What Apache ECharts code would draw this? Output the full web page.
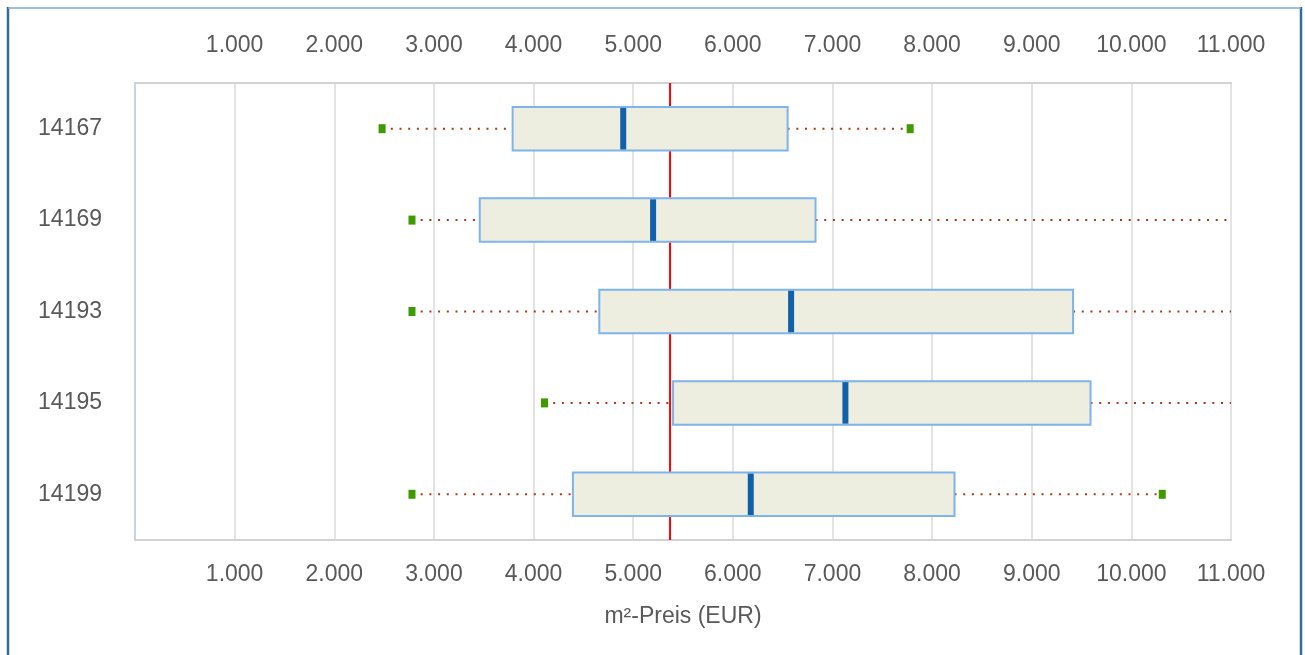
<!DOCTYPE html>
<html>
<head>
<meta charset="utf-8">
<script src="https://cdn.jsdelivr.net/npm/echarts@6/dist/echarts.min.js"></script>
<style>
html,body{margin:0;padding:0;background:#fff;}
#chart{width:1305px;height:655px;}
</style>
</head>
<body>
<div id="chart"></div>
<script>
// ---- data ----
const categories   = ['14167', '14169', '14193', '14195', '14199'];
const whiskerLow   = [2480, 2780, 2780, 4110, 2780];
const quartile1    = [3790, 3460, 4660, 5400, 4395];
const medianValues = [4900, 5200, 6585, 7130, 6180];
const quartile3    = [6550, 6830, 9415, 9590, 8225];
const whiskerHigh  = [7780, 11500, 11500, 11500, 10310]; // >11.000 ones run off the axis
const referenceValue = [5370];
const axisMin = 0, axisMax = 11000, axisStep = 1000;
const axisTitle = 'm²-Preis (EUR)';

const fmt = v => v === 0 ? '' : String(v).replace(/\B(?=(\d{3})+(?!\d))/g, '.');
const FONT = '"Liberation Sans", Arial, Helvetica, sans-serif';
const TXT = '#595959';

const boxData = categories.map((c, i) => [i, whiskerLow[i], quartile1[i], medianValues[i], quartile3[i], whiskerHigh[i]]);

const chart = echarts.init(document.getElementById('chart'), null, {renderer: 'canvas'});

function renderBox(params, api) {
  const cs = params.coordSys;
  const idx = api.value(0);
  const right = cs.x + cs.width;
  const left = cs.x;
  const yc = api.coord([0, idx])[1];
  const band = api.size([0, 1])[1];
  const h = band * 0.476;
  const xMin = api.coord([api.value(1), idx])[0];
  const xQ1 = api.coord([api.value(2), idx])[0];
  const xMed = api.coord([api.value(3), idx])[0];
  const xQ3 = api.coord([api.value(4), idx])[0];
  const xMax = api.coord([api.value(5), idx])[0];
  const dot = {stroke: '#ad3a0e', lineWidth: 2, lineDash: [2, 6.7], lineCap: 'butt'};
  const children = [];
  children.push({type: 'line', shape: {x1: Math.max(xMin, left), y1: yc, x2: xQ1, y2: yc}, style: dot});
  children.push({type: 'line', shape: {x1: xQ3, y1: yc, x2: Math.min(xMax, right), y2: yc}, style: dot});
  children.push({type: 'rect', shape: {x: xQ1, y: yc - h / 2, width: xQ3 - xQ1, height: h},
    style: {fill: '#eeeee0', stroke: '#7db4ea', lineWidth: 2}});
  children.push({type: 'rect', shape: {x: xMed - 3, y: yc - h / 2 + 1, width: 6, height: h - 2},
    style: {fill: '#1160aa'}});
  if (xMin >= left) children.push({type: 'rect', shape: {x: xMin - 3.5, y: yc - 4.5, width: 7, height: 9}, style: {fill: '#3f9a00'}});
  if (xMax <= right) children.push({type: 'rect', shape: {x: xMax - 3.5, y: yc - 4.5, width: 7, height: 9}, style: {fill: '#3f9a00'}});
  return {type: 'group', children: children};
}

function renderRef(params, api) {
  const cs = params.coordSys;
  const x = api.coord([api.value(0), 0])[0];
  return {type: 'line', shape: {x1: x, y1: cs.y, x2: x, y2: cs.y + cs.height},
    style: {stroke: '#ff0000', lineWidth: 2}};
}

const axisBase = {
  type: 'value', min: axisMin, max: axisMax, interval: axisStep,
  axisTick: {show: false},
  axisLine: {show: true, lineStyle: {color: '#d2d2d2', width: 2}},
};

chart.setOption({
  animation: false,
  backgroundColor: '#ffffff',
  textStyle: {fontFamily: FONT},
  graphic: [
    {type: 'line', shape: {x1: 8, y1: 7, x2: 8, y2: 700}, style: {stroke: '#2f6d9d', lineWidth: 2.5}, silent: true},
    {type: 'line', shape: {x1: 1301, y1: 7, x2: 1301, y2: 700}, style: {stroke: '#2f6d9d', lineWidth: 2.5}, silent: true},
    {type: 'line', shape: {x1: 8, y1: 8, x2: 1301, y2: 8}, style: {stroke: '#7ea9cc', lineWidth: 1.5}, silent: true}
  ],
  grid: {left: 135, right: 74, top: 83, bottom: 115, show: true, borderColor: '#d2d2d2', borderWidth: 2},
  xAxis: [
    Object.assign({}, axisBase, {
      position: 'bottom',
      name: axisTitle, nameLocation: 'middle', nameGap: 65,
      nameTextStyle: {color: TXT, fontSize: 23, fontFamily: FONT},
      axisLabel: {formatter: fmt, color: TXT, fontSize: 23, fontFamily: FONT, margin: 23},
      splitLine: {show: true, lineStyle: {color: '#e3e3e3', width: 2}}
    }),
    Object.assign({}, axisBase, {
      position: 'top',
      axisLabel: {formatter: fmt, color: TXT, fontSize: 23, fontFamily: FONT, margin: 26},
      splitLine: {show: false}
    })
  ],
  yAxis: {
    type: 'category', data: categories, inverse: true,
    axisTick: {show: false},
    axisLine: {show: true, lineStyle: {color: '#c8d3e8', width: 2}},
    axisLabel: {color: TXT, fontSize: 23, fontFamily: FONT, margin: 33},
    splitLine: {show: false}
  },
  series: [
    {type: 'custom', name: 'ref', renderItem: renderRef, data: referenceValue.map(v => [v, 0]),
      encode: {x: 0, y: 1}, z: 1, silent: true},
    {type: 'custom', name: 'box', renderItem: renderBox, data: boxData,
      encode: {x: [1, 2, 3, 4, 5], y: 0}, z: 3, silent: true}
  ]
});
</script>
</body>
</html>
